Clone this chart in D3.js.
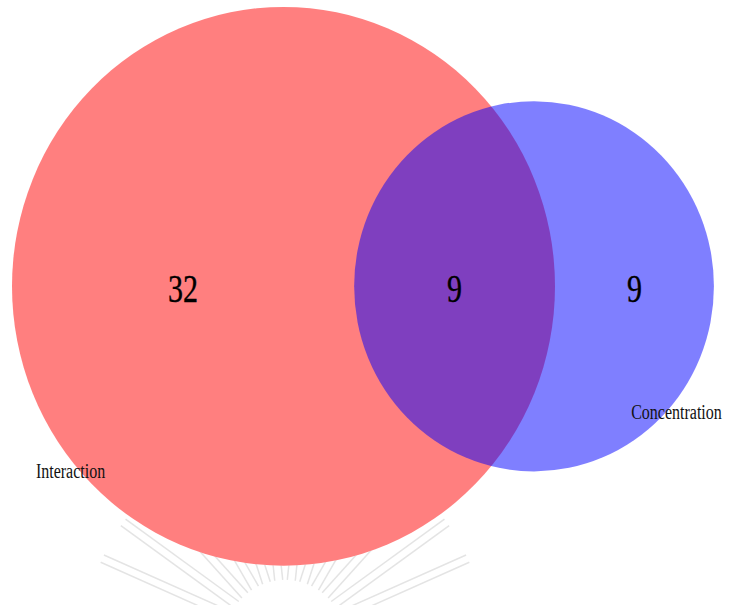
<!DOCTYPE html>
<html>
<head>
<meta charset="utf-8">
<script src="https://cdn.jsdelivr.net/npm/d3@7"></script>
<style>
  html, body { margin: 0; padding: 0; background: #fff; }
  svg { display: block; }
</style>
</head>
<body>
<svg id="chart" width="729" height="605"></svg>
<script>
// ---- data ----
const setNames = ["Interaction", "Concentration"];
const onlyCounts = [32, 9];     // A only, B only
const overlapCount = 9;         // A ∩ B
const setColors = ["#ff0000", "#0000ff"];

const W = 729, H = 605;
const svg = d3.select("#chart");

const totals = [onlyCounts[0] + overlapCount, onlyCounts[1] + overlapCount];

// radius scale: area proportional to set size
const rScale = d3.scaleSqrt().domain([0, d3.max(totals)]).range([0, 271.5]);
const r1 = rScale(totals[0]), r2 = rScale(totals[1]);

// solve center distance so the intersection area matches the overlap count
function lens(d) {
  if (d >= r1 + r2) return 0;
  if (d <= Math.abs(r1 - r2)) return Math.PI * Math.min(r1, r2) ** 2;
  const a = r1 * r1 * Math.acos((d * d + r1 * r1 - r2 * r2) / (2 * d * r1));
  const b = r2 * r2 * Math.acos((d * d + r2 * r2 - r1 * r1) / (2 * d * r2));
  const c = 0.5 * Math.sqrt((-d + r1 + r2) * (d + r1 - r2) * (d - r1 + r2) * (d + r1 + r2));
  return a + b - c;
}
const unitArea = Math.PI * r1 * r1 / totals[0];
const target = overlapCount * unitArea;
let lo = Math.abs(r1 - r2), hi = r1 + r2;
for (let i = 0; i < 80; i++) {
  const mid = (lo + hi) / 2;
  if (lens(mid) > target) lo = mid; else hi = mid;
}
const dist = (lo + hi) / 2;

const cy = 286.3;
const cx1 = 12 + r1;
const cx2 = cx1 + dist;
const stretch = 1.029;

// faint watermark (background decoration)
const wm = svg.append("g").attr("fill", "none").attr("stroke", "#e4e4e4").attr("stroke-width", 1.5);
const wmC = [285, 640];
d3.range(-66, 67, 12).forEach(deg => {
  const a = (deg - 90) * Math.PI / 180;
  [-4, 4].forEach(off => {
    const px = Math.cos(a + Math.PI / 2) * off, py = Math.sin(a + Math.PI / 2) * off;
    wm.append("line")
      .attr("x1", wmC[0] + px + Math.cos(a) * 60).attr("y1", wmC[1] + py + Math.sin(a) * 60)
      .attr("x2", wmC[0] + px + Math.cos(a) * 200).attr("y2", wmC[1] + py + Math.sin(a) * 200);
  });
});

// circles
const circles = [
  { cx: cx1, r: r1, color: setColors[0] },
  { cx: cx2, r: r2, color: setColors[1] }
];
// white base so the watermark does not show through
svg.append("g").selectAll("ellipse")
  .data(circles)
  .join("ellipse")
  .attr("cx", d => d.cx)
  .attr("cy", cy)
  .attr("rx", d => d.r)
  .attr("ry", d => d.r * stretch)
  .attr("fill", "#fff");
svg.append("g").selectAll("ellipse")
  .data(circles)
  .join("ellipse")
  .attr("cx", d => d.cx)
  .attr("cy", cy)
  .attr("rx", d => d.r)
  .attr("ry", d => d.r * stretch)
  .attr("fill", d => d.color)
  .attr("fill-opacity", 0.5);

// region count labels at midpoints of each region along the center line
const aL = cx1 - r1, aR = cx1 + r1, bL = cx2 - r2, bR = cx2 + r2;
const counts = [
  { x: (aL + bL) / 2, v: onlyCounts[0] },
  { x: (bL + aR) / 2, v: overlapCount },
  { x: (aR + bR) / 2, v: onlyCounts[1] }
];
svg.append("g").selectAll("text")
  .data(counts)
  .join("text")
  .attr("transform", d => `translate(${d.x},${cy + 16}) scale(1,1.3)`)
  .attr("text-anchor", "middle")
  .attr("font-family", "'Liberation Serif', 'Times New Roman', serif")
  .attr("font-size", 30)
  .attr("fill", "#000")
  .attr("stroke", "#000")
  .attr("stroke-width", 0.3)
  .text(d => d.v);

// set name labels
const nameLabels = [
  { name: setNames[0], x: cx1 - r1 * 0.912, y: cy + r1 * 0.706 },
  { name: setNames[1], x: cx2 + r2 * 0.54, y: cy + r2 * 0.74 }
];
svg.append("g").selectAll("text")
  .data(nameLabels)
  .join("text")
  .attr("transform", d => `translate(${d.x},${d.y}) scale(1,1.25)`)
  .attr("text-anchor", "start")
  .attr("font-family", "'Liberation Serif', 'Times New Roman', serif")
  .attr("font-size", 16)
  .attr("fill", "#111")
  .text(d => d.name);
</script>
</body>
</html>
